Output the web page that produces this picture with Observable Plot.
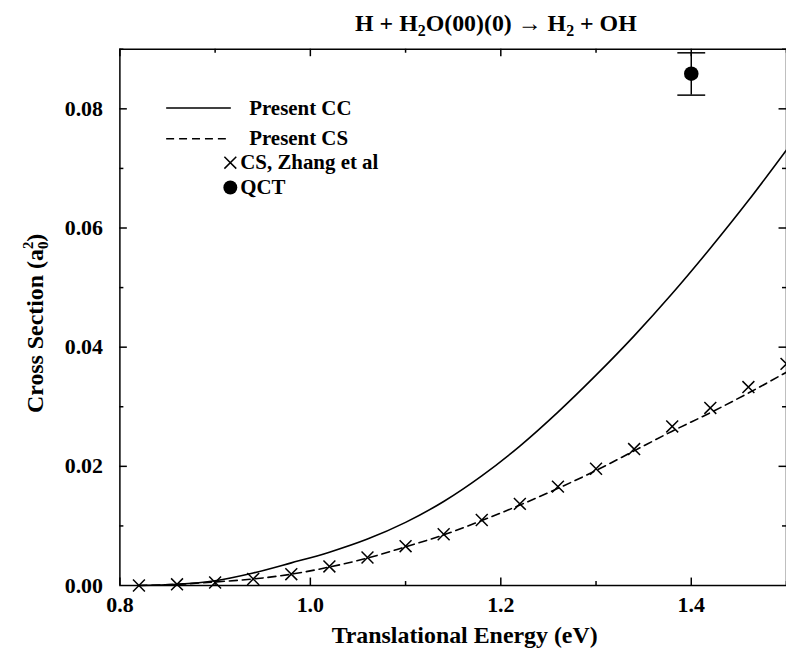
<!DOCTYPE html>
<html><head><meta charset="utf-8">
<script src="https://cdn.jsdelivr.net/npm/d3@7"></script>
<script src="https://cdn.jsdelivr.net/npm/@observablehq/plot@0.6"></script>
<style>
html,body{margin:0;padding:0;background:#fff;overflow:hidden}
#chart{position:relative;width:786px;height:653px;overflow:hidden}
</style>
</head><body><div id="chart"></div>
<script>
// ---- data ----
const energyCC = [0.82,0.86,0.90,0.94,0.98,1.02,1.06,1.10,1.14,1.18,1.22,1.26,1.30,1.34,1.38,1.42,1.46,1.50];
const sigmaCC  = [0.0000,0.0002,0.0008,0.0021,0.0038,0.0056,0.0078,0.0106,0.0141,0.0184,0.0234,0.0291,0.0353,0.0419,0.0490,0.0566,0.0646,0.0731];
const energyCS = [0.82,0.86,0.90,0.94,0.98,1.02,1.06,1.10,1.14,1.18,1.22,1.26,1.30,1.34,1.38,1.42,1.46,1.50];
const sigmaCS  = [0.0000,0.0002,0.0006,0.0011,0.0019,0.0031,0.0046,0.0065,0.0085,0.0109,0.0135,0.0163,0.0193,0.0226,0.0259,0.0290,0.0323,0.0358];
const energyZhang = [0.82,0.86,0.90,0.94,0.98,1.02,1.06,1.10,1.14,1.18,1.22,1.26,1.30,1.34,1.38,1.42,1.46,1.50];
const sigmaZhang  = [0.0000,0.0002,0.0005,0.0011,0.0019,0.0032,0.0047,0.0066,0.0086,0.0110,0.0137,0.0166,0.0196,0.0229,0.0267,0.0298,0.0333,0.0372];
const energyQCT = [1.4];
const sigmaQCT  = [0.0859];
const qctLow    = [0.0823];
const qctHigh   = [0.0894];
const xTickLabels = [0.8,1.0,1.2,1.4];
const xMinorTicks = [0.9,1.1,1.3,1.5];
const yTickLabels = [0,0.02,0.04,0.06,0.08];
const yMinorTicks = [0.01,0.03,0.05,0.07,0.09];
const legendLabels = ["Present CC","Present CS","CS, Zhang et al","QCT"];
const titleParts = ["H + H","2","O(00)(0) \u2192 H","2"," + OH"];
const xTitle = "Translational Energy (eV)";
const yTitleParts = ["Cross Section (a","0","2",")"];

// ---- tables ----
const cc = energyCC.map((e,i)=>({e, s: sigmaCC[i]}));
const cs = energyCS.map((e,i)=>({e, s: sigmaCS[i]}));
const zh = energyZhang.map((e,i)=>({e, s: sigmaZhang[i]}));
const qct = energyQCT.map((e,i)=>({e, s: sigmaQCT[i], lo: qctLow[i], hi: qctHigh[i]}));

const W = 790, H = 653, mL = 120, mR = 0, mT = 49, mB = 65;
const fw = W - mL - mR, fh = H - mT - mB;
const font = "'Liberation Serif','Times New Roman',serif";
const hline = {draw(ctx, size){ const r = Math.sqrt(size/Math.PI); ctx.moveTo(-r,0); ctx.lineTo(r,0); }};
const LF = 21;

const plot = Plot.plot({
  width: W, height: H,
  marginLeft: mL, marginRight: mR, marginTop: mT, marginBottom: mB,
  x: {domain: [0.8, 1.5]},
  y: {domain: [0, 0.09]},
  style: {fontFamily: font, fontSize: "22px", fontWeight: "bold", color: "#000", background: "#fff", overflow: "visible"},
  marks: [
    Plot.frame({stroke: "#000", strokeWidth: 1.5}),
    // inward ticks
    Plot.ruleX(xTickLabels, {insetTop: fh - 7.5, strokeWidth: 1.5}),
    Plot.ruleX(xMinorTicks, {insetTop: fh - 4, strokeWidth: 1.5}),
    Plot.ruleX(xTickLabels, {insetBottom: fh - 7.5, strokeWidth: 1.5}),
    Plot.ruleX(xMinorTicks, {insetBottom: fh - 4, strokeWidth: 1.5}),
    Plot.ruleY(yTickLabels.slice(1), {insetRight: fw - 7.5, strokeWidth: 1.5}),
    Plot.ruleY(yMinorTicks, {insetRight: fw - 4, strokeWidth: 1.5}),
    Plot.ruleY(yTickLabels.slice(1), {insetLeft: fw - 7.5, strokeWidth: 1.5}),
    Plot.ruleY(yMinorTicks, {insetLeft: fw - 4, strokeWidth: 1.5}),
    Plot.axisX({ticks: xTickLabels, tickSize: 0, tickPadding: 11, tickFormat: d3.format(".1f"), label: null, fontSize: 22}),
    Plot.axisY({ticks: yTickLabels, tickSize: 0, tickPadding: 17, tickFormat: d3.format(".2f"), label: null, fontSize: 22}),
    // curves
    Plot.line(cc, {x: "e", y: "s", curve: "monotone-x", stroke: "#000", strokeWidth: 1.6}),
    Plot.line(cs, {x: "e", y: "s", curve: "monotone-x", stroke: "#000", strokeWidth: 1.6, strokeDasharray: "8,5"}),
    Plot.dot(zh, {x: "e", y: "s", symbol: "times", r: 5.5, stroke: "#000", strokeWidth: 1.5}),
    // QCT with error bar
    Plot.ruleX(qct, {x: "e", y1: "lo", y2: "hi", stroke: "#000", strokeWidth: 1.5}),
    Plot.dot(qct, {x: "e", y: "lo", symbol: hline, r: 14, stroke: "#000", strokeWidth: 1.5}),
    Plot.dot(qct, {x: "e", y: "hi", symbol: hline, r: 14, stroke: "#000", strokeWidth: 1.5}),
    Plot.dot(qct, {x: "e", y: "s", r: 7.3, fill: "#000", stroke: null}),
    // legend
    Plot.dot([legendLabels[0]], {x: null, y: null, frameAnchor: "top-left", dx: 79, dy: 59, symbol: hline, r: 32.5, stroke: "#000", strokeWidth: 1.6}),
    Plot.dot([legendLabels[1]], {x: null, y: null, frameAnchor: "top-left", dx: 79, dy: 90, symbol: hline, r: 32.5, stroke: "#000", strokeWidth: 1.6, strokeDasharray: "8,5"}),
    Plot.dot([legendLabels[2]], {x: null, y: null, frameAnchor: "top-left", dx: 111, dy: 114, symbol: "times", r: 5.5, stroke: "#000", strokeWidth: 1.5}),
    Plot.dot([legendLabels[3]], {x: null, y: null, frameAnchor: "top-left", dx: 111, dy: 139, r: 7, fill: "#000", stroke: null}),
    Plot.text([legendLabels[0]], {text: d => d, frameAnchor: "top-left", dx: 130, dy: 59, textAnchor: "start", lineAnchor: "middle", fontSize: LF}),
    Plot.text([legendLabels[1]], {text: d => d, frameAnchor: "top-left", dx: 130, dy: 90, textAnchor: "start", lineAnchor: "middle", fontSize: LF}),
    Plot.text([legendLabels[2]], {text: d => d, frameAnchor: "top-left", dx: 121, dy: 114, textAnchor: "start", lineAnchor: "middle", fontSize: LF}),
    Plot.text([legendLabels[3]], {text: d => d, frameAnchor: "top-left", dx: 121, dy: 139, textAnchor: "start", lineAnchor: "middle", fontSize: LF})
  ]
});

const svg = d3.select(plot);
// title
const t = svg.append("text").attr("x", 640).attr("y", 31).attr("text-anchor", "end")
  .attr("font-family", font).attr("font-size", 24).attr("font-weight", "bold").attr("fill", "#000");
t.append("tspan").text(titleParts[0]);
t.append("tspan").attr("font-size", 16).attr("dy", 5).text(titleParts[1]);
t.append("tspan").attr("dy", -5).text(titleParts[2]);
t.append("tspan").attr("font-size", 16).attr("dy", 5).text(titleParts[3]);
t.append("tspan").attr("dy", -5).text(titleParts[4]);
// x title
svg.append("text").attr("x", 467).attr("y", 646).attr("text-anchor", "middle")
  .attr("font-family", font).attr("font-size", 24).attr("font-weight", "bold").attr("fill", "#000").text(xTitle);
// y title
const yt = svg.append("text").attr("transform", "translate(43,325) rotate(-90)").attr("text-anchor", "middle")
  .attr("font-family", font).attr("font-size", 24).attr("font-weight", "bold").attr("fill", "#000");
yt.append("tspan").text(yTitleParts[0]);
yt.append("tspan").attr("font-size", 15).attr("dy", 5).text(yTitleParts[1]);
yt.append("tspan").attr("font-size", 15).attr("dx", -7.5).attr("dy", -15).text(yTitleParts[2]);
yt.append("tspan").attr("dy", 10).text(yTitleParts[3]);

document.getElementById("chart").appendChild(plot);
</script>
</body></html>
